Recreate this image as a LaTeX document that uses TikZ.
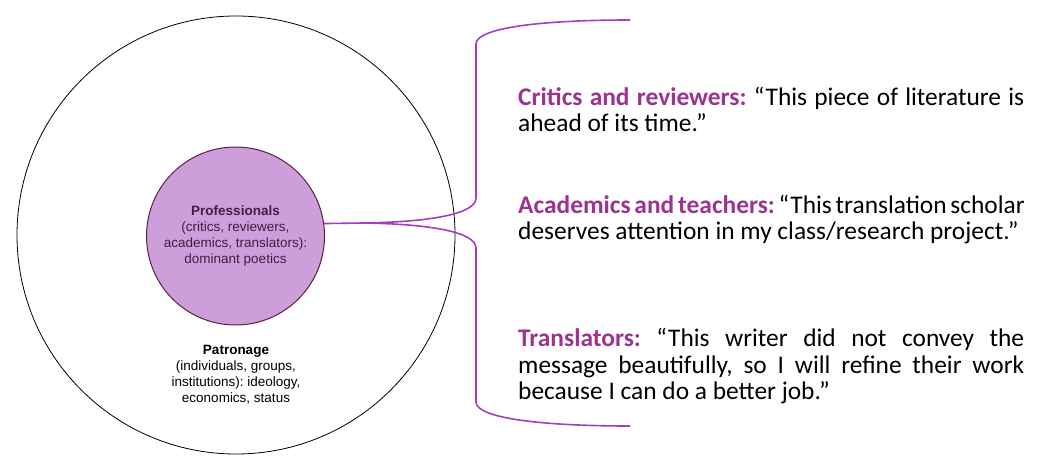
\documentclass[tikz,border=0pt]{standalone}
\usepackage{fontspec}
\setmainfont{Carlito}
\newfontfamily\arialfont{Liberation Sans}
\definecolor{bracecol}{HTML}{A040C0}
\definecolor{boldcol}{HTML}{9C3391}
\definecolor{innerfill}{HTML}{CE9EDB}
\definecolor{innerdraw}{HTML}{5A2040}
\definecolor{innertext}{HTML}{4A1942}
\newcommand{\quotefont}{\fontsize{25.4}{26.5}\selectfont}
\hyphenpenalty=10000
\exhyphenpenalty=10000
\frenchspacing
\begin{document}
\begin{tikzpicture}[x=1pt,y=-1pt,
  ring/.style={circle,draw=black,line width=0.8pt,inner sep=0pt,minimum size=#1},
  core/.style={circle,draw=innerdraw,line width=1pt,fill=innerfill,inner sep=0pt,minimum size=#1},
  sanslabel/.style={align=center,font=\arialfont\fontsize{13.5}{16}\selectfont,inner sep=0pt},
  quote/.style={anchor=north west,inner sep=0pt,text width=506pt,align=justify,
    font=\quotefont},
  brace/.style={draw=bracecol,line width=1.6pt}
]
\useasboundingbox (0,0) rectangle (1051,465);
\node[ring=438pt] (patron) at (236,235) {};
\node[core=178pt] (prof) at (235.5,236) {};
\node[sanslabel,text=innertext] (proftext) at (235.5,236)
  {\textbf{Professionals}\\(critics, reviewers,\\academics, translators):\\dominant poetics};
\node[sanslabel,text=black] (patrontext) at (236,375)
  {\textbf{Patronage}\\(individuals, groups,\\institutions): ideology,\\economics, status};

\coordinate (junction) at (363,223);
\coordinate (topend) at (630,20);
\coordinate (botend) at (630,426);
\draw[brace] (prof.8) -- (junction)
  .. controls (430,222) and (476,214) .. (476,198)
  -- (476,44)
  .. controls (476,28) and (540,20) .. (topend);
\draw[brace] (junction)
  .. controls (430,224) and (476,232) .. (476,248)
  -- (476,402)
  .. controls (476,418) and (540,426) .. (botend);

\node[quote] (q1) at (518,86.5) {\strut\textbf{\textcolor{boldcol}{Critics and reviewers:}} “This piece of literature is ahead of its time.”};
\node[quote] (q2) at (518,194.5) {\strut\textbf{\textcolor{boldcol}{Academics and teachers:}} “This translation scholar deserves attention in my class/research project.”};
\node[quote] (q3) at (518,328) {\strut\textbf{\textcolor{boldcol}{Translators:}} “This writer did not convey the message beautifully, so I will refine their work because I can do a better job.”};
\end{tikzpicture}
\end{document}
